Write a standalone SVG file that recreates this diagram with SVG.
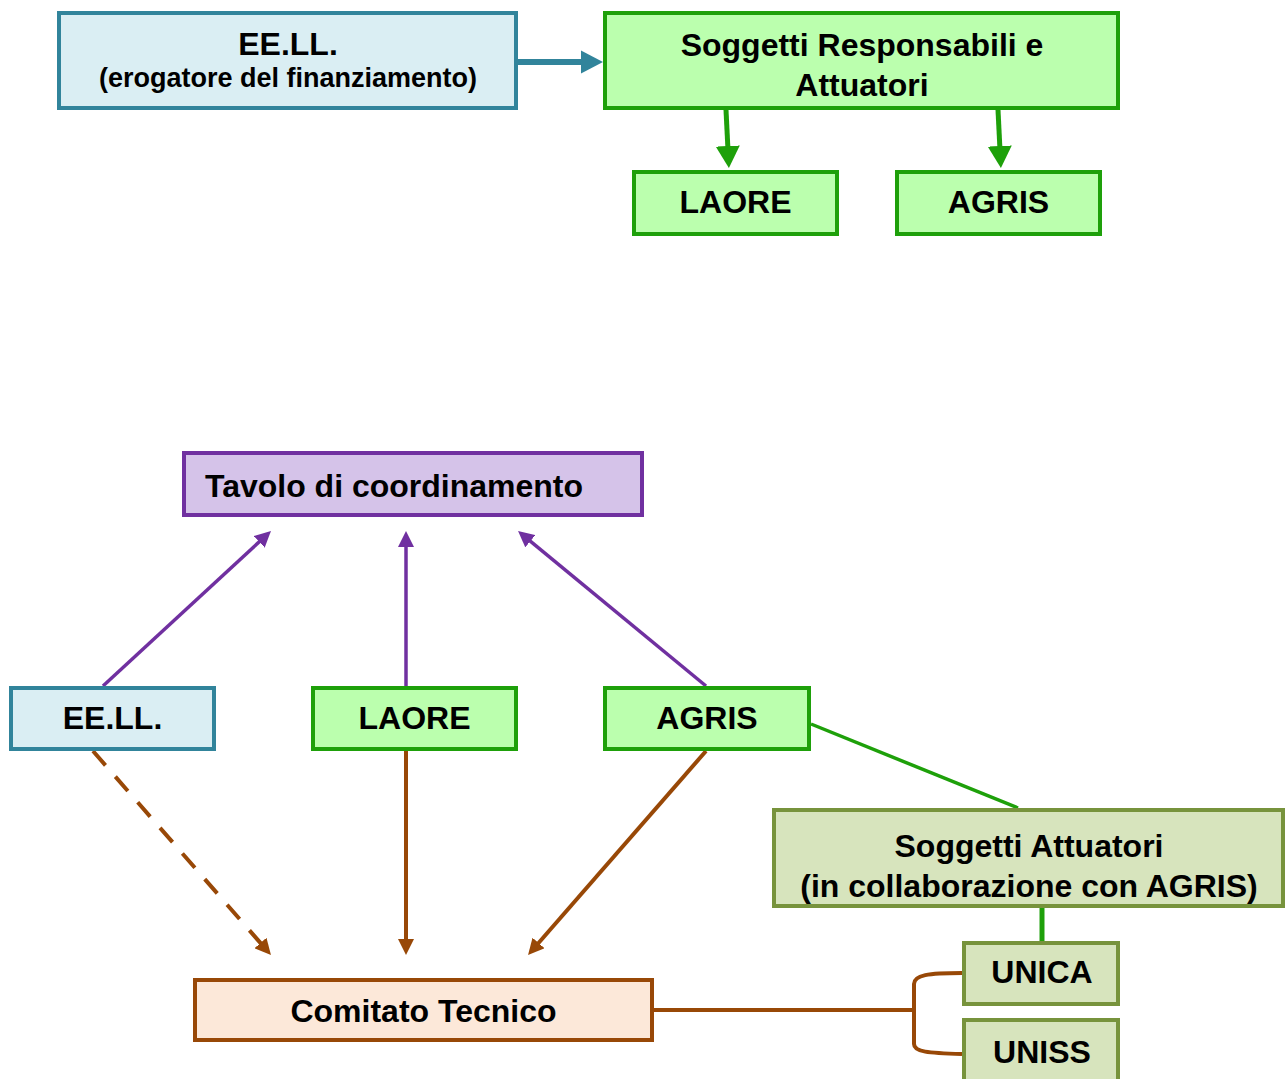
<svg xmlns="http://www.w3.org/2000/svg" width="1287" height="1079" viewBox="0 0 1287 1079">
<defs>
<style>
text{font-family:"Liberation Sans",Arial,sans-serif;font-weight:bold;fill:#000;text-anchor:middle}
.t32{font-size:32px}
.t27{font-size:27px}
.blue{fill:#DAEEF3;stroke:#31849B;stroke-width:4}
.green{fill:#BBFFAE;stroke:#1EA00A;stroke-width:4}
.purple{fill:#D5C3E9;stroke:#7030A0;stroke-width:4}
.olive{fill:#D7E4BD;stroke:#77933C;stroke-width:4}
.brown{fill:#FCE8D9;stroke:#984807;stroke-width:4}
.cb{stroke:#31849B;stroke-width:6;fill:none}
.cg{stroke:#1EA00A;stroke-width:5;fill:none}
.cp{stroke:#7030A0;stroke-width:3.5;fill:none}
.cr{stroke:#984807;stroke-width:4;fill:none}
</style>
<marker id="mb" markerUnits="userSpaceOnUse" markerWidth="22" markerHeight="24" refX="12" refY="11.5" orient="auto" viewBox="0 0 22 23"><path d="M0,0 L22,11.5 L0,23 z" fill="#31849B"/></marker>
<marker id="mg" markerUnits="userSpaceOnUse" markerWidth="22" markerHeight="24" refX="12" refY="12" orient="auto" viewBox="0 0 22 24"><path d="M0,0 L22,12 L0,24 z" fill="#1EA00A"/></marker>
<marker id="mp" markerUnits="userSpaceOnUse" markerWidth="16" markerHeight="16" refX="8" refY="8" orient="auto" viewBox="0 0 16 16"><path d="M0,0 L16,8 L0,16 z" fill="#7030A0"/></marker>
<marker id="mr" markerUnits="userSpaceOnUse" markerWidth="16" markerHeight="16" refX="8" refY="8" orient="auto" viewBox="0 0 16 16"><path d="M0,0 L16,8 L0,16 z" fill="#984807"/></marker>
</defs>
<rect width="1287" height="1079" fill="#fff"/>
<g id="connectors">
<line class="cb" x1="518" y1="62" x2="593" y2="62" marker-end="url(#mb)"/>
<line class="cg" x1="726" y1="110" x2="728.4" y2="158" marker-end="url(#mg)"/>
<line class="cg" x1="998" y1="110" x2="1000.4" y2="158" marker-end="url(#mg)"/>
<line class="cp" x1="103" y1="686" x2="265.1" y2="536.4" marker-end="url(#mp)"/>
<line class="cp" x1="406" y1="686" x2="406" y2="539" marker-end="url(#mp)"/>
<line class="cp" x1="706" y1="686" x2="524.2" y2="536.1" marker-end="url(#mp)"/>
<line class="cr" x1="93" y1="751" x2="265.7" y2="949" stroke-dasharray="19 15" stroke-width="5" marker-end="url(#mr)"/>
<line class="cr" x1="406" y1="751" x2="406" y2="947" marker-end="url(#mr)"/>
<line class="cr" x1="706" y1="751" x2="533.3" y2="949" marker-end="url(#mr)"/>
<line x1="811" y1="724" x2="1018" y2="808" stroke="#1EA00A" stroke-width="3.5"/>
<line x1="1042" y1="906" x2="1042" y2="943" stroke="#1EA00A" stroke-width="5"/>
<line class="cr" x1="654" y1="1010" x2="914" y2="1010"/>
<path class="cr" d="M962,973 C928,973 914,975 914,984 L914,1044 C914,1052 928,1053 962,1054"/>
</g>
<g id="n-eell-top"><rect class="blue" x="59" y="13" width="457" height="95"/><text class="t32" x="288" y="55">EE.LL.</text><text class="t27" x="288" y="87">(erogatore del finanziamento)</text></g>
<g id="n-soggetti-resp"><rect class="green" x="605" y="13" width="513" height="95"/><text class="t32" x="862" y="56">Soggetti Responsabili e</text><text class="t32" x="862" y="96">Attuatori</text></g>
<g id="n-laore-top"><rect class="green" x="634" y="172" width="203" height="62"/><text class="t32" x="735.5" y="213">LAORE</text></g>
<g id="n-agris-top"><rect class="green" x="897" y="172" width="203" height="62"/><text class="t32" x="998.5" y="213">AGRIS</text></g>
<g id="n-tavolo"><rect class="purple" x="184" y="453" width="458" height="62"/><text class="t32" x="394" y="497">Tavolo di coordinamento</text></g>
<g id="n-eell"><rect class="blue" x="11" y="688" width="203" height="61"/><text class="t32" x="112.5" y="729">EE.LL.</text></g>
<g id="n-laore"><rect class="green" x="313" y="688" width="203" height="61"/><text class="t32" x="414.5" y="729">LAORE</text></g>
<g id="n-agris"><rect class="green" x="605" y="688" width="204" height="61"/><text class="t32" x="707" y="729">AGRIS</text></g>
<g id="n-soggetti-att"><rect class="olive" x="774" y="810" width="509" height="96"/><text class="t32" x="1029" y="857">Soggetti Attuatori</text><text class="t32" x="1029" y="897">(in collaborazione con AGRIS)</text></g>
<g id="n-unica"><rect class="olive" x="964" y="943" width="154" height="61"/><text class="t32" x="1042" y="983">UNICA</text></g>
<g id="n-uniss"><rect class="olive" x="964" y="1020" width="154" height="70"/><text class="t32" x="1042" y="1063">UNISS</text></g>
<g id="n-comitato"><rect class="brown" x="195" y="980" width="457" height="60"/><text class="t32" x="423.5" y="1022">Comitato Tecnico</text></g>
</svg>
